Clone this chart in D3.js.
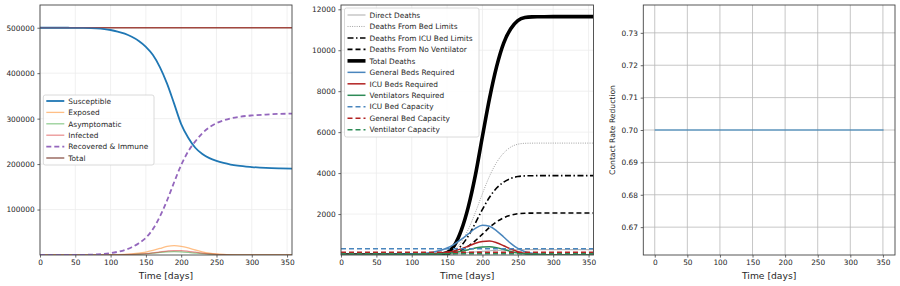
<!DOCTYPE html>
<html><head><meta charset="utf-8">
<script src="https://cdn.jsdelivr.net/npm/d3@7"></script>
<style>
html,body{margin:0;padding:0;background:#fff;}
svg text{font-family:"DejaVu Sans",sans-serif;}
</style></head>
<body><svg id="c" width="900" height="286"></svg>
<script>
// ---------- DATA ----------
const days = [0,20,40,60,80,100,110,120,130,140,150,160,170,180,190,200,210,220,230,240,250,260,270,280,300,320,340,357];
// Panel 1 (population compartments)
const susceptible = [500000,499990,499900,499600,498500,495000,491500,487000,480000,471000,458000,440000,413000,377000,333000,288000,258000,236000,222000,213000,207000,202500,199000,196500,193500,191500,190500,190000];
const exposed     = [0,0,5,40,200,600,950,1500,2500,4000,6500,10000,14500,18800,20500,19000,15500,11000,7000,4200,2400,1300,700,400,120,40,15,10];
const asymptomatic= [0,0,2,15,80,250,400,620,1000,1600,2600,4000,5600,6800,7300,6900,5700,4200,2800,1700,1000,550,300,170,50,15,5,3];
const infected    = [0,0,2,20,100,300,480,750,1200,1900,3100,4800,6800,8700,9800,9600,8200,6100,4100,2500,1450,800,440,240,70,20,8,4];
const recovered   = [0,0,50,300,1200,4000,7000,11000,17000,26000,38000,57000,85000,120000,160000,198000,228000,250000,268000,281000,290000,296000,300500,303500,307000,309000,310500,311000];
const total       = [500000,500000,500000,500000,500000,500000,500000,500000,500000,500000,500000,500000,500000,500000,500000,500000,500000,500000,500000,500000,500000,500000,500000,500000,500000,500000,500000,500000];
// Panel 2 (deaths and hospital resources)
const directDeaths   = [0,0,0,0,1,3,5,8,12,20,30,60,90,120,150,180,205,225,240,250,255,258,260,260,260,260,260,260];
const bedLimitDeaths = [0,0,0,0,0,0,0,0,3,12,50,230,640,1250,2080,3000,3850,4520,4980,5270,5410,5455,5462,5465,5465,5465,5465,5465];
const icuLimitDeaths = [0,0,0,0,0,0,0,0,2,10,40,160,450,930,1560,2230,2820,3270,3560,3740,3830,3865,3872,3875,3875,3875,3875,3875];
const ventDeaths     = [0,0,0,0,0,0,0,0,1,6,25,95,230,430,700,1020,1350,1620,1820,1940,2015,2042,2047,2050,2050,2050,2050,2050];
const totalDeaths    = [0,0,0,0,1,5,8,12,20,40,120,450,1200,2350,3900,5800,7650,9200,10350,11050,11450,11600,11630,11635,11640,11640,11640,11640];
const generalBeds    = [5,8,12,20,30,45,60,90,140,220,340,520,760,1030,1300,1450,1400,1180,880,570,320,160,80,40,15,8,5,4];
const icuBeds        = [2,3,5,8,12,18,24,35,55,85,130,200,300,430,570,660,680,600,450,290,160,80,40,20,8,4,2,2];
const ventilators    = [1,2,3,5,7,11,15,21,33,51,78,120,180,260,340,395,405,360,270,175,96,48,24,12,5,2,1,1];
const icuBedCapacity = 310;
const generalBedCapacity = 130;
const ventilatorCapacity = 60;
// Panel 3
const contactDays = [0,351];
const contactRate = [0.70,0.70];
// Ticks
const xTicks = [0,50,100,150,200,250,300,350];
const y1Ticks = [100000,200000,300000,400000,500000];
const y2Ticks = [2000,4000,6000,8000,10000,12000];
const y3Ticks = [0.67,0.68,0.69,0.70,0.71,0.72,0.73];
const labels1 = ["Susceptible","Exposed","Asymptomatic","Infected","Recovered & Immune","Total"];
const labels2 = ["Direct Deaths","Deaths From Bed Limits","Deaths From ICU Bed Limits","Deaths From No Ventilator","Total Deaths","General Beds Required","ICU Beds Required","Ventilators Required","ICU Bed Capacity","General Bed Capacity","Ventilator Capacity"];

// ---------- DRAW ----------
const svg = d3.select("#c");
const TOP=5, BOT=255;
const FS=7.4;
const TXT="#262626";

function panel(left,right,xdom,ydom,yticks,yfmt,gridColor){
  const x=d3.scaleLinear().domain(xdom).range([left,right]);
  const y=d3.scaleLinear().domain(ydom).range([BOT,TOP]);
  const g=svg.append("g");
  const clipId="clip"+Math.round(left);
  svg.append("clipPath").attr("id",clipId).append("rect").attr("x",left).attr("y",TOP).attr("width",right-left).attr("height",BOT-TOP);
  g.selectAll(".gx").data(xTicks).enter().append("line")
    .attr("x1",d=>x(d)).attr("x2",d=>x(d)).attr("y1",TOP).attr("y2",BOT)
    .attr("stroke",gridColor).attr("stroke-width",0.8);
  g.selectAll(".gy").data(yticks).enter().append("line")
    .attr("y1",d=>y(d)).attr("y2",d=>y(d)).attr("x1",left).attr("x2",right)
    .attr("stroke",gridColor).attr("stroke-width",0.8);
  const ax=d3.axisBottom(x).tickValues(xTicks).tickSize(2.6).tickPadding(2.6).tickFormat(d3.format("d"));
  const axg=svg.append("g").attr("transform",`translate(0,${BOT})`).call(ax);
  const ay=d3.axisLeft(y).tickValues(yticks).tickSize(2.6).tickPadding(2.8).tickFormat(yfmt);
  const ayg=svg.append("g").attr("transform",`translate(${left},0)`).call(ay);
  [axg,ayg].forEach(a=>{
    a.select(".domain").remove();
    a.selectAll("line").attr("stroke","#444").attr("stroke-width",0.8);
    a.selectAll("text").attr("font-size",FS).attr("fill",TXT).attr("font-family","DejaVu Sans");
  });
  svg.append("text").attr("x",(left+right)/2).attr("y",278.5).attr("text-anchor","middle")
    .attr("font-size",9.2).attr("fill",TXT).text("Time [days]");
  const plot=svg.append("g").attr("clip-path",`url(#${clipId})`);
  return {x,y,plot,left,right};
}
function frame(p){
  svg.append("rect").attr("x",p.left).attr("y",TOP).attr("width",p.right-p.left).attr("height",BOT-TOP)
    .attr("fill","none").attr("stroke","#444").attr("stroke-width",0.9);
}
function drawLine(p,xs,ys,st){
  const line=d3.line().x((d,i)=>p.x(xs[i])).y(d=>p.y(d)).curve(d3.curveMonotoneX);
  p.plot.append("path").datum(ys).attr("d",line).attr("fill","none")
    .attr("stroke",st.c).attr("stroke-width",st.w).attr("stroke-opacity",st.o||1)
    .attr("stroke-dasharray",st.d||null).attr("stroke-linecap","butt");
}
function legend(x0,y0,x1,y1,rowY0,dy,labels,styles){
  svg.append("rect").attr("x",x0).attr("y",y0).attr("width",x1-x0).attr("height",y1-y0).attr("rx",2)
    .attr("fill","#fff").attr("fill-opacity",0.85).attr("stroke","#d0d0d0").attr("stroke-width",0.8);
  labels.forEach((l,i)=>{
    const yy=rowY0+i*dy, st=styles[i];
    svg.append("line").attr("x1",x0+3).attr("x2",x0+21).attr("y1",yy).attr("y2",yy)
      .attr("stroke",st.c).attr("stroke-width",st.w).attr("stroke-opacity",st.o||1).attr("stroke-dasharray",st.d||null);
    svg.append("text").attr("x",x0+25).attr("y",yy+2.7).attr("font-size",FS).attr("fill",TXT).text(l);
  });
}

// Panel 1
const st1=[
  {c:"#1f77b4",w:1.8},
  {c:"#ff7f0e",w:1.3,o:0.5},
  {c:"#2ca02c",w:1.3,o:0.5},
  {c:"#d62728",w:1.3,o:0.5},
  {c:"#9467bd",w:1.8,d:"5,3"},
  {c:"#8c564b",w:1.3}
];
const p1=panel(40,292,[0,357],[0,550000],y1Ticks,d3.format("d"),"#ececec");
[total,susceptible,exposed,asymptomatic,infected,recovered].forEach((s,k)=>{
  const idx=[5,0,1,2,3,4][k];
  drawLine(p1,days,s,st1[idx]);
});
drawLine(p1,days,total,{c:"#d62728",w:1,o:0.4});
frame(p1);
legend(43.3,95,154,165,101,11.4,labels1,st1);

// Panel 2
const st2=[
  {c:"#888",w:0.7},
  {c:"#999",w:0.9,d:"1,1.3"},
  {c:"#000",w:1.6,d:"6,2.5,1.5,2.5"},
  {c:"#000",w:1.6,d:"5,3"},
  {c:"#000",w:3.6},
  {c:"#4a86bd",w:1.5},
  {c:"#b22222",w:1.5},
  {c:"#2e8b57",w:1.5},
  {c:"#4a86bd",w:1.5,d:"5,3"},
  {c:"#b22222",w:1.5,d:"5,3"},
  {c:"#2e8b57",w:1.5,d:"5,3"}
];
const p2=panel(341,593.5,[0,357],[0,12210],y2Ticks,d3.format("d"),"#ececec");
const caps=[icuBedCapacity,generalBedCapacity,ventilatorCapacity].map(v=>days.map(()=>v));
[directDeaths,bedLimitDeaths,icuLimitDeaths,ventDeaths,totalDeaths,generalBeds,icuBeds,ventilators,caps[0],caps[1],caps[2]]
  .forEach((s,i)=>drawLine(p2,days,s,st2[i]));
frame(p2);
legend(344.5,8,479,137,15,11.47,labels2,st2);

// Panel 3
const p3=panel(643.3,895,[-17.55,368.55],[0.6614,0.7386],y3Ticks,d3.format(".2f"),"#b8b8b8");
drawLine(p3,contactDays,contactRate,{c:"#1f77b4",w:1.5,o:0.65});
frame(p3);
svg.append("text").attr("transform","translate(614.5,130) rotate(-90)").attr("text-anchor","middle")
  .attr("font-size",7.6).attr("fill",TXT).text("Contact Rate Reduction");
</script></body></html>
